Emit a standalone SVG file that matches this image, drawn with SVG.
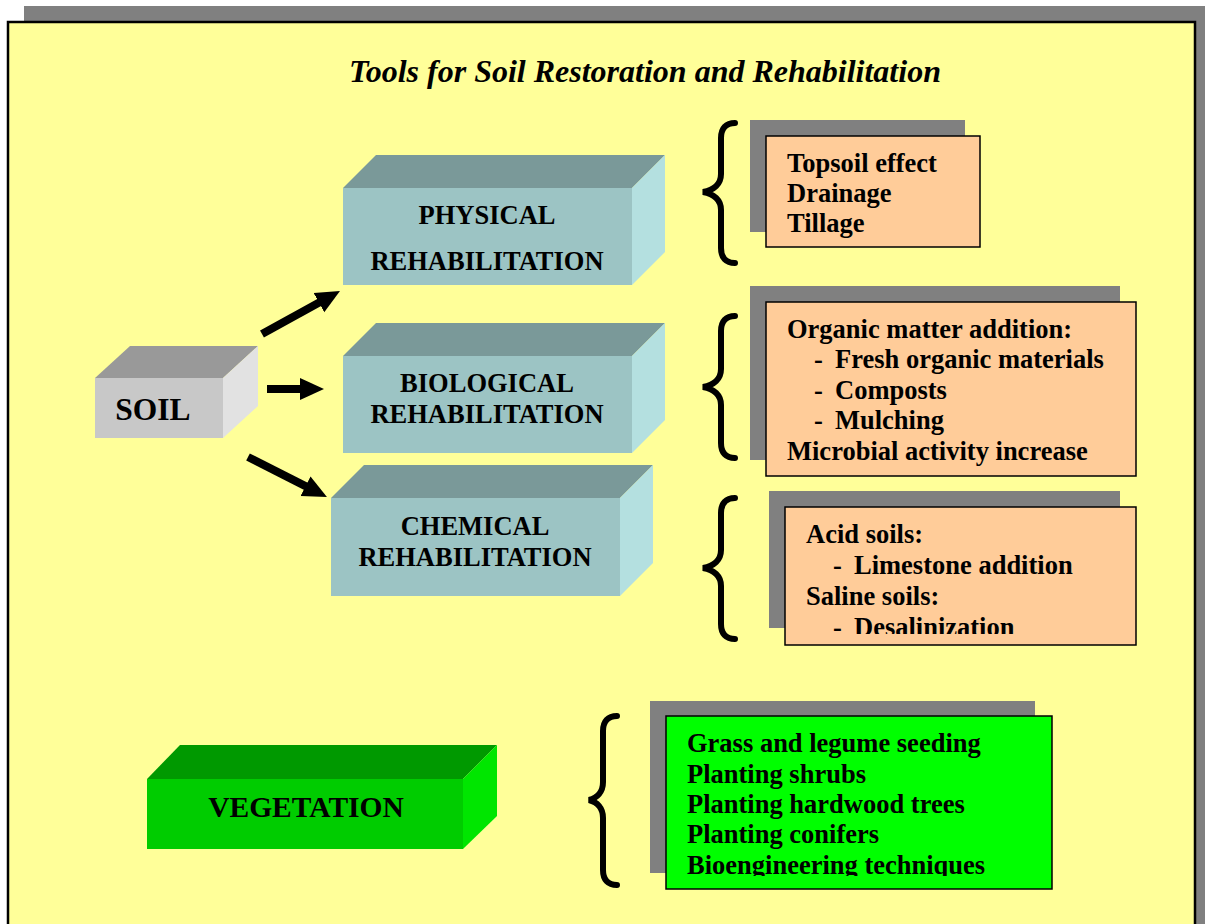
<svg xmlns="http://www.w3.org/2000/svg" width="1205" height="924" viewBox="0 0 1205 924">
<style>
.t{font-family:"Liberation Serif","Times New Roman",serif;font-weight:bold;fill:#000}
.lbl{font-size:26.5px}
.cent{text-anchor:middle}
.shadow{fill:#808080}
.orange{fill:#FFCC99;stroke:#000;stroke-width:1.5}
.greenbox{fill:#00FF00;stroke:#000;stroke-width:1.5}
.brace{fill:none;stroke:#000;stroke-width:6;stroke-linecap:round}
.arrow{stroke:#000;stroke-width:8;fill:none}
.tealF{fill:#9CC4C4}.tealT{fill:#7A9999}.tealS{fill:#B4E0E0}
.grayF{fill:#C8C8C8}.grayT{fill:#999999}.grayS{fill:#E2E2E2}
.vegF{fill:#00CC00}.vegT{fill:#009900}.vegS{fill:#00E600}
</style>
<defs>
<marker id="ah" markerUnits="userSpaceOnUse" markerWidth="26" markerHeight="26" refX="6" refY="12" orient="auto">
<path d="M0,1 L24,12 L0,23 z" fill="#000"/>
</marker>
<clipPath id="c3"><rect x="785" y="507" width="352" height="127"/></clipPath>
<clipPath id="c4"><rect x="666" y="716" width="386" height="160"/></clipPath>
</defs>
<rect x="0" y="0" width="1205" height="924" fill="#fff"/>
<rect x="24" y="6" width="1181" height="930" fill="#808080"/>
<rect x="8" y="22" width="1187" height="920" fill="#FFFF99" stroke="#000" stroke-width="2.5"/>

<text class="t" x="645" y="82" text-anchor="middle" font-size="32" font-style="italic">Tools for Soil Restoration and Rehabilitation</text>

<g id="soil">
<polygon class="grayT" points="95,378 130,346 258,346 223,378"/>
<polygon class="grayS" points="223,378 258,346 258,406 223,438"/>
<rect class="grayF" x="95" y="378" width="128" height="60"/>
<text class="t" x="153" y="420" font-size="31.5" text-anchor="middle">SOIL</text>
</g>

<g id="physical">
<polygon class="tealT" points="343,188 376,155 665,155 632,188"/>
<polygon class="tealS" points="632,188 665,155 665,252 632,285"/>
<rect class="tealF" x="343" y="188" width="289" height="97"/>
<text class="t lbl cent" x="487" y="224">PHYSICAL</text>
<text class="t lbl cent" x="487" y="270">REHABILITATION</text>
</g>

<g id="biological">
<polygon class="tealT" points="343,356 376,323 665,323 632,356"/>
<polygon class="tealS" points="632,356 665,323 665,420 632,453"/>
<rect class="tealF" x="343" y="356" width="289" height="97"/>
<text class="t lbl cent" x="487" y="392">BIOLOGICAL</text>
<text class="t lbl cent" x="487" y="423">REHABILITATION</text>
</g>

<g id="chemical">
<polygon class="tealT" points="331,498 364,465 653,465 620,498"/>
<polygon class="tealS" points="620,498 653,465 653,563 620,596"/>
<rect class="tealF" x="331" y="498" width="289" height="98"/>
<text class="t lbl cent" x="475" y="535">CHEMICAL</text>
<text class="t lbl cent" x="475" y="566">REHABILITATION</text>
</g>

<g id="vegetation">
<polygon class="vegT" points="147,779 180,745 497,745 463,779"/>
<polygon class="vegS" points="463,779 497,745 497,816 463,849"/>
<rect class="vegF" x="147" y="779" width="316" height="70"/>
<text class="t cent" x="306" y="817" font-size="29.5">VEGETATION</text>
</g>

<g id="physical-list">
<path class="brace" d="M735,123 C726,123 721,128 721,138 L721,174 C721,184 714,190 703,192 C714,194 721,200 721,210 L721,248 C721,258 726,263 735,263"/>
<rect class="shadow" x="750" y="120" width="215" height="112"/>
<rect class="orange" x="766" y="136" width="214" height="111"/>
<text class="t lbl" x="787" y="172">Topsoil effect</text>
<text class="t lbl" x="787" y="202">Drainage</text>
<text class="t lbl" x="787" y="232">Tillage</text>
</g>

<g id="biological-list">
<path class="brace" d="M735,316 C726,316 721,321 721,331 L721,369 C721,379 714,385 703,387 C714,389 721,395 721,405 L721,443 C721,453 726,458 735,458"/>
<rect class="shadow" x="750" y="286" width="370" height="174"/>
<rect class="orange" x="766" y="302" width="370" height="174"/>
<text class="t lbl" x="787" y="338">Organic matter addition:</text>
<text class="t lbl" x="814" y="368">-</text><text class="t lbl" x="835" y="368">Fresh organic materials</text>
<text class="t lbl" x="814" y="399">-</text><text class="t lbl" x="835" y="399">Composts</text>
<text class="t lbl" x="814" y="429">-</text><text class="t lbl" x="835" y="429">Mulching</text>
<text class="t lbl" x="787" y="460">Microbial activity increase</text>
</g>

<g id="chemical-list">
<path class="brace" d="M735,498 C726,498 721,503 721,513 L721,550 C721,560 714,566 703,568 C714,570 721,576 721,586 L721,624 C721,634 726,639 735,639"/>
<rect class="shadow" x="769" y="491" width="351" height="137"/>
<rect class="orange" x="785" y="507" width="351" height="138"/>
<g clip-path="url(#c3)">
<text class="t lbl" x="806" y="543">Acid soils:</text>
<text class="t lbl" x="833" y="574">-</text><text class="t lbl" x="854" y="574">Limestone addition</text>
<text class="t lbl" x="806" y="605">Saline soils:</text>
<text class="t lbl" x="833" y="636">-</text><text class="t lbl" x="854" y="636">Desalinization</text>
</g>
</g>

<g id="vegetation-list">
<path class="brace" d="M617,716 C608,716 603,721 603,731 L603,782 C603,792 597,798 589,800 C597,802 603,808 603,818 L603,870 C603,880 608,885 617,885"/>
<rect class="shadow" x="650" y="701" width="385" height="172"/>
<rect class="greenbox" x="666" y="716" width="386" height="173"/>
<g clip-path="url(#c4)">
<text class="t lbl" x="687" y="752">Grass and legume seeding</text>
<text class="t lbl" x="687" y="783">Planting shrubs</text>
<text class="t lbl" x="687" y="813">Planting hardwood trees</text>
<text class="t lbl" x="687" y="843">Planting conifers</text>
<text class="t lbl" x="687" y="874">Bioengineering techniques</text>
</g>
</g>

<g id="connectors">
<line class="arrow" x1="262" y1="334" x2="324.2" y2="299.7" marker-end="url(#ah)"/>
<line class="arrow" x1="267" y1="389" x2="306" y2="389" marker-end="url(#ah)"/>
<line class="arrow" x1="248" y1="457" x2="310.9" y2="488.9" marker-end="url(#ah)"/>
</g>
</svg>
